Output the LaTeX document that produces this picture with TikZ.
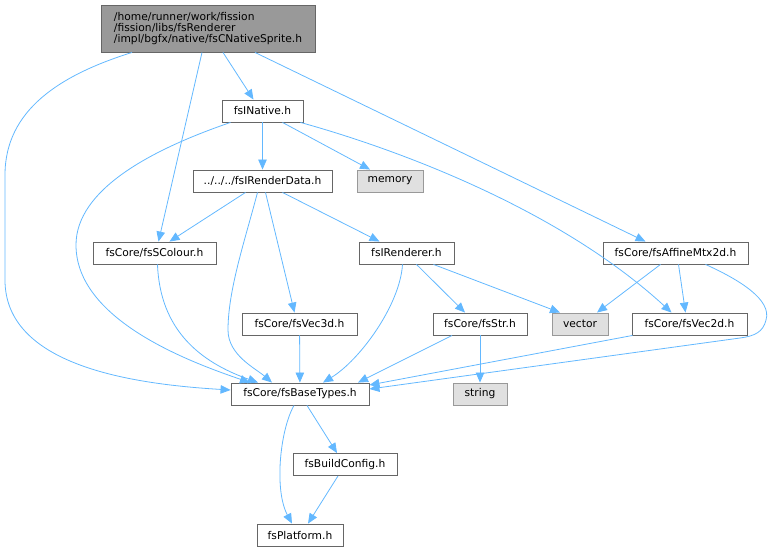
\documentclass[tikz,border=0pt]{standalone}
\usepackage{fontspec}
\setmainfont{DejaVu Sans}
\usepackage{xcolor}
\usetikzlibrary{arrows.meta,positioning}

\definecolor{edgeblue}{HTML}{63B8FF}
\definecolor{boxgrey}{HTML}{666666}

\tikzset{
  hdr/.style={draw=boxgrey, fill=white, rectangle, line width=0.9pt, minimum height=22pt, inner xsep=4pt, inner ysep=0pt, font=\fontsize{10.7}{11.3}\selectfont},
  syshdr/.style={hdr, draw=black!40, fill=black!12},
  roothdr/.style={hdr, fill=black!40, align=left, minimum height=47pt},
  dep/.style={draw=edgeblue, line width=0.8pt, -{Triangle[length=10pt,width=8.5pt]}},
}

\begin{document}
\begin{tikzpicture}[x=1pt,y=-1pt]
            \useasboundingbox (0,0) rectangle (770,552);

            \node[roothdr, minimum width=214pt] (root) at (208,28.5) {/home/runner/work/fission\\/fission/libs/fsRenderer\\/impl/bgfx/native/fsCNativeSprite.h};
            \node[hdr, minimum width=81pt] (native) at (262.5,111) {fsINative.h};
            \node[hdr, minimum width=139pt] (rdata) at (262.5,181) {../../../fsIRenderData.h};
            \node[syshdr, minimum width=66pt] (memory) at (390,181) {memory};
            \node[hdr, minimum width=123pt] (scolour) at (154.5,253) {fsCore/fsSColour.h};
            \node[hdr, minimum width=95pt] (renderer) at (406.5,253) {fsIRenderer.h};
            \node[hdr, minimum width=145pt] (affine) at (675.5,253) {fsCore/fsAffineMtx2d.h};
            \node[hdr, minimum width=115pt] (vec3d) at (299.5,324) {fsCore/fsVec3d.h};
            \node[hdr, minimum width=94pt] (str) at (480,324) {fsCore/fsStr.h};
            \node[syshdr, minimum width=56pt] (vector) at (580,324) {vector};
            \node[hdr, minimum width=115pt] (vec2d) at (689.5,324) {fsCore/fsVec2d.h};
            \node[hdr, minimum width=138pt] (base) at (300,394) {fsCore/fsBaseTypes.h};
            \node[syshdr, minimum width=54pt] (string) at (480,394) {string};
            \node[hdr, minimum width=104pt] (build) at (345,464.5) {fsBuildConfig.h};
            \node[hdr, minimum width=86pt] (platform) at (300,535) {fsPlatform.h};

            \draw[dep] ([xshift=15pt]root.south) -- ([xshift=-9pt]native.north);
            \draw[dep] ([xshift=-6pt]root.south) -- ([xshift=4pt]scolour.north);
            \draw[dep] ([xshift=47pt]root.south) -- ([xshift=-30pt]affine.north);
            \draw[dep] ([xshift=-76pt]root.south) .. controls (60,75) and (5,110) .. (5,175) -- (5,280) .. controls (5,365) and (130,384) .. ([yshift=4pt]base.west);

            \draw[dep] (native) -- (rdata);
            \draw[dep] ([xshift=20pt]native.south) -- ([xshift=-20pt]memory.north);
            \draw[dep] ([xshift=38pt]native.south) .. controls (400,150) and (560,210) .. ([xshift=-18pt]vec2d.north);
            \draw[dep] ([xshift=-32pt]native.south) .. controls (150,150) and (76,190) .. (76,245) .. controls (76,320) and (190,362) .. ([xshift=-50pt]base.north);

            \draw[dep] ([xshift=-17pt]rdata.south) -- ([xshift=15pt]scolour.north);
            \draw[dep] ([xshift=20pt]rdata.south) -- ([xshift=-27pt]renderer.north);
            \draw[dep] ([xshift=3pt]rdata.south) -- ([xshift=-5pt]vec3d.north);
            \draw[dep] ([xshift=-5pt]rdata.south) .. controls (245,240) and (228,290) .. (228,330) .. controls (228,355) and (255,368) .. ([xshift=-28pt]base.north);

            \draw[dep] ([xshift=3pt]scolour.south) .. controls (160,330) and (200,362) .. ([xshift=-42pt]base.north);

            \draw[dep] ([xshift=10pt]renderer.south) -- ([xshift=-15pt]str.north);
            \draw[dep] ([xshift=27pt]renderer.south) -- ([xshift=-20pt]vector.north);
            \draw[dep] ([xshift=-4pt]renderer.south) .. controls (400,305) and (360,360) .. ([xshift=23pt]base.north);

            \draw[dep] ([xshift=-15pt]affine.south) -- ([xshift=17pt]vector.north);
            \draw[dep] ([xshift=3pt]affine.south) -- ([xshift=-4pt]vec2d.north);
            \draw[dep] ([xshift=30pt]affine.south) .. controls (740,280) and (772,300) .. (766,320) .. controls (763,332) and (755,336) .. (740,338) -- ([yshift=5pt]base.east);

            \draw[dep] (vec3d) -- (base);
            \draw[dep] ([xshift=-28pt]str.south) -- ([xshift=58pt]base.north);
            \draw[dep] (str) -- (string);
            \draw[dep] ([xshift=-57pt]vec2d.south) -- ([yshift=9pt]base.east);

            \draw[dep] ([xshift=7pt]base.south) -- ([xshift=-8pt]build.north);
            \draw[dep] ([xshift=-6pt]base.south) .. controls (280,430) and (274,490) .. ([xshift=-8pt]platform.north);
            \draw[dep] ([xshift=-7pt]build.south) -- ([xshift=8pt]platform.north);
        \end{tikzpicture}
\end{document}
